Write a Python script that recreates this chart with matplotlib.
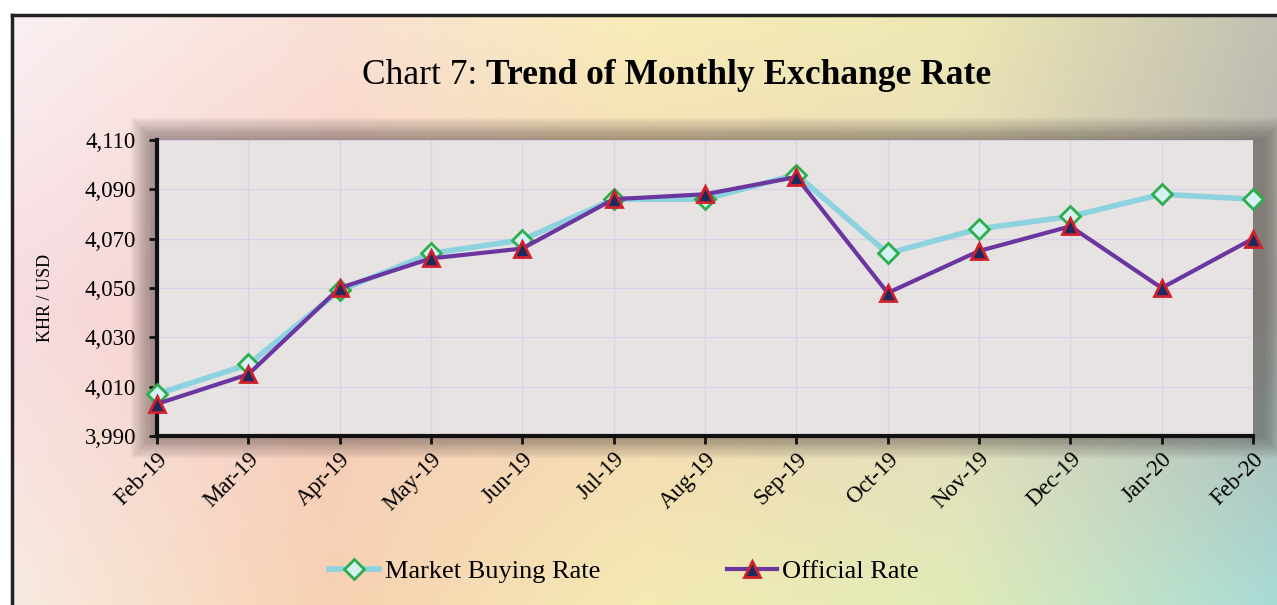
import numpy as np
import matplotlib
matplotlib.use("Agg")
import matplotlib.pyplot as plt
from matplotlib.lines import Line2D
from matplotlib.patches import Rectangle

months = ["Feb-19", "Mar-19", "Apr-19", "May-19", "Jun-19", "Jul-19", "Aug-19",
          "Sep-19", "Oct-19", "Nov-19", "Dec-19", "Jan-20", "Feb-20"]
market_buying = [4007, 4019, 4049, 4064, 4069.5, 4086, 4086, 4096, 4064, 4074, 4079, 4088, 4086]
official_rate = [4003, 4015, 4050, 4062, 4066, 4086, 4088, 4095, 4048, 4065, 4075, 4050, 4070]
yticks = [3990, 4010, 4030, 4050, 4070, 4090, 4110]

plt.rcParams['font.family'] = ['Liberation Serif', 'DejaVu Serif']

W, H = 1277, 605
fig = plt.figure(figsize=(W / 100, H / 100), dpi=100)
fig.patch.set_facecolor('white')

# decorative background gradient
bg = fig.add_axes([12 / W, 0, 1 - 12 / W, 1 - 15 / H])
bg.set_axis_off()
stops = np.array([
    [[0.98, 0.94, 0.95], [0.98, 0.88, 0.84], [0.97, 0.93, 0.72], [0.93, 0.91, 0.70], [0.76, 0.75, 0.70]],
    [[0.97, 0.86, 0.88], [0.97, 0.80, 0.76], [0.96, 0.82, 0.70], [0.90, 0.84, 0.76], [0.70, 0.70, 0.68]],
    [[0.97, 0.92, 0.88], [0.97, 0.82, 0.70], [0.96, 0.92, 0.70], [0.88, 0.92, 0.72], [0.66, 0.86, 0.84]],
])
ny, nx = 120, 240
yy = np.linspace(0, stops.shape[0] - 1, ny)
xx = np.linspace(0, stops.shape[1] - 1, nx)
img = np.zeros((ny, nx, 3))
for c in range(3):
    rows = np.array([np.interp(xx, np.arange(stops.shape[1]), stops[r, :, c]) for r in range(stops.shape[0])])
    for j in range(nx):
        img[:, j, c] = np.interp(yy, np.arange(stops.shape[0]), rows[:, j])
bg.imshow(img, aspect='auto', extent=[0, 1, 0, 1], interpolation='bicubic')
bg.set_xlim(0, 1)
bg.set_ylim(0, 1)

# frame lines
fig.add_artist(Line2D([12 / W, 12 / W], [0, 1 - 15 / H], color='#222222', lw=2.5))
fig.add_artist(Line2D([12 / W, 1], [1 - 15 / H, 1 - 15 / H], color='#222222', lw=2.5))

# plot area
left, right = 157 / W, 1253 / W
bottom, top = 1 - 436 / H, 1 - 140 / H

# soft shadow around the plot area
for k in range(10):
    pad = (10 - k) * 2.2
    fig.add_artist(Rectangle(((157 - pad - 4) / W, (605 - 436 - pad) / H),
                             (1253 - 157 + 2 * pad + 14) / W, (436 - 140 + 2 * pad) / H,
                             transform=fig.transFigure, facecolor='#3a3030', alpha=0.05,
                             edgecolor='none', zorder=0.5))

ax = fig.add_axes([left, bottom, right - left, top - bottom], zorder=2)
ax.set_facecolor('#E7E3E3')
x = np.arange(len(months))

ax.plot(x, market_buying, color='#8DD2DF', lw=4, zorder=3,
        marker='D', markersize=10, markerfacecolor='#D6F1F4', markeredgecolor='#2BAE4C',
        markeredgewidth=2, label='Market Buying Rate', clip_on=False)
ax.plot(x, official_rate, color='#6B36A0', lw=3, zorder=4,
        marker='^', markersize=12, markerfacecolor='#1E2A5E', markeredgecolor='#D0202C',
        markeredgewidth=2, label='Official Rate', clip_on=False)

ax.set_xlim(0, len(months) - 1)
ax.set_ylim(3990, 4110)
ax.set_yticks(yticks)
ax.set_yticklabels([f"{v:,}" for v in yticks], fontsize=16.5)
ax.set_xticks(x)
ax.set_xticklabels(months, fontsize=16.5, rotation=45, ha='right', va='top', rotation_mode='anchor')
ax.tick_params(axis='x', pad=3)
ax.tick_params(axis='y', pad=9)
ax.tick_params(axis='both', direction='out', length=6, width=2, color='#111111')
ax.grid(True, color='#D9D2E6', lw=0.9)
ax.set_axisbelow(True)
for s in ['top', 'right']:
    ax.spines[s].set_visible(False)
for s in ['left', 'bottom']:
    ax.spines[s].set_linewidth(3)
    ax.spines[s].set_color('#111111')

fig.text(45 / W, 1 - 298 / H, 'KHR / USD', rotation=90, ha='center', va='center', fontsize=13)

# title
t1 = fig.text(0.5, 1 - 75 / H, 'Chart 7: ', fontsize=25.5, ha='right', va='center')
fig.canvas.draw()
r = fig.canvas.get_renderer()
bb1 = t1.get_window_extent(r)
t2 = fig.text(0.5, 1 - 75 / H, 'Trend of Monthly Exchange Rate', fontsize=25.5,
              fontweight='bold', ha='left', va='center')
bb2 = t2.get_window_extent(r)
total = bb1.width + bb2.width
start = 677 - total / 2
t1.set_x((start + bb1.width) / W)
t2.set_x((start + bb1.width) / W)

leg = fig.legend(loc='center', bbox_to_anchor=(624 / W, 1 - 571 / H), ncol=2,
                 frameon=False, fontsize=19, columnspacing=4.8, handlelength=1.9,
                 handletextpad=0.2)

fig.savefig('out.png', dpi=100)
